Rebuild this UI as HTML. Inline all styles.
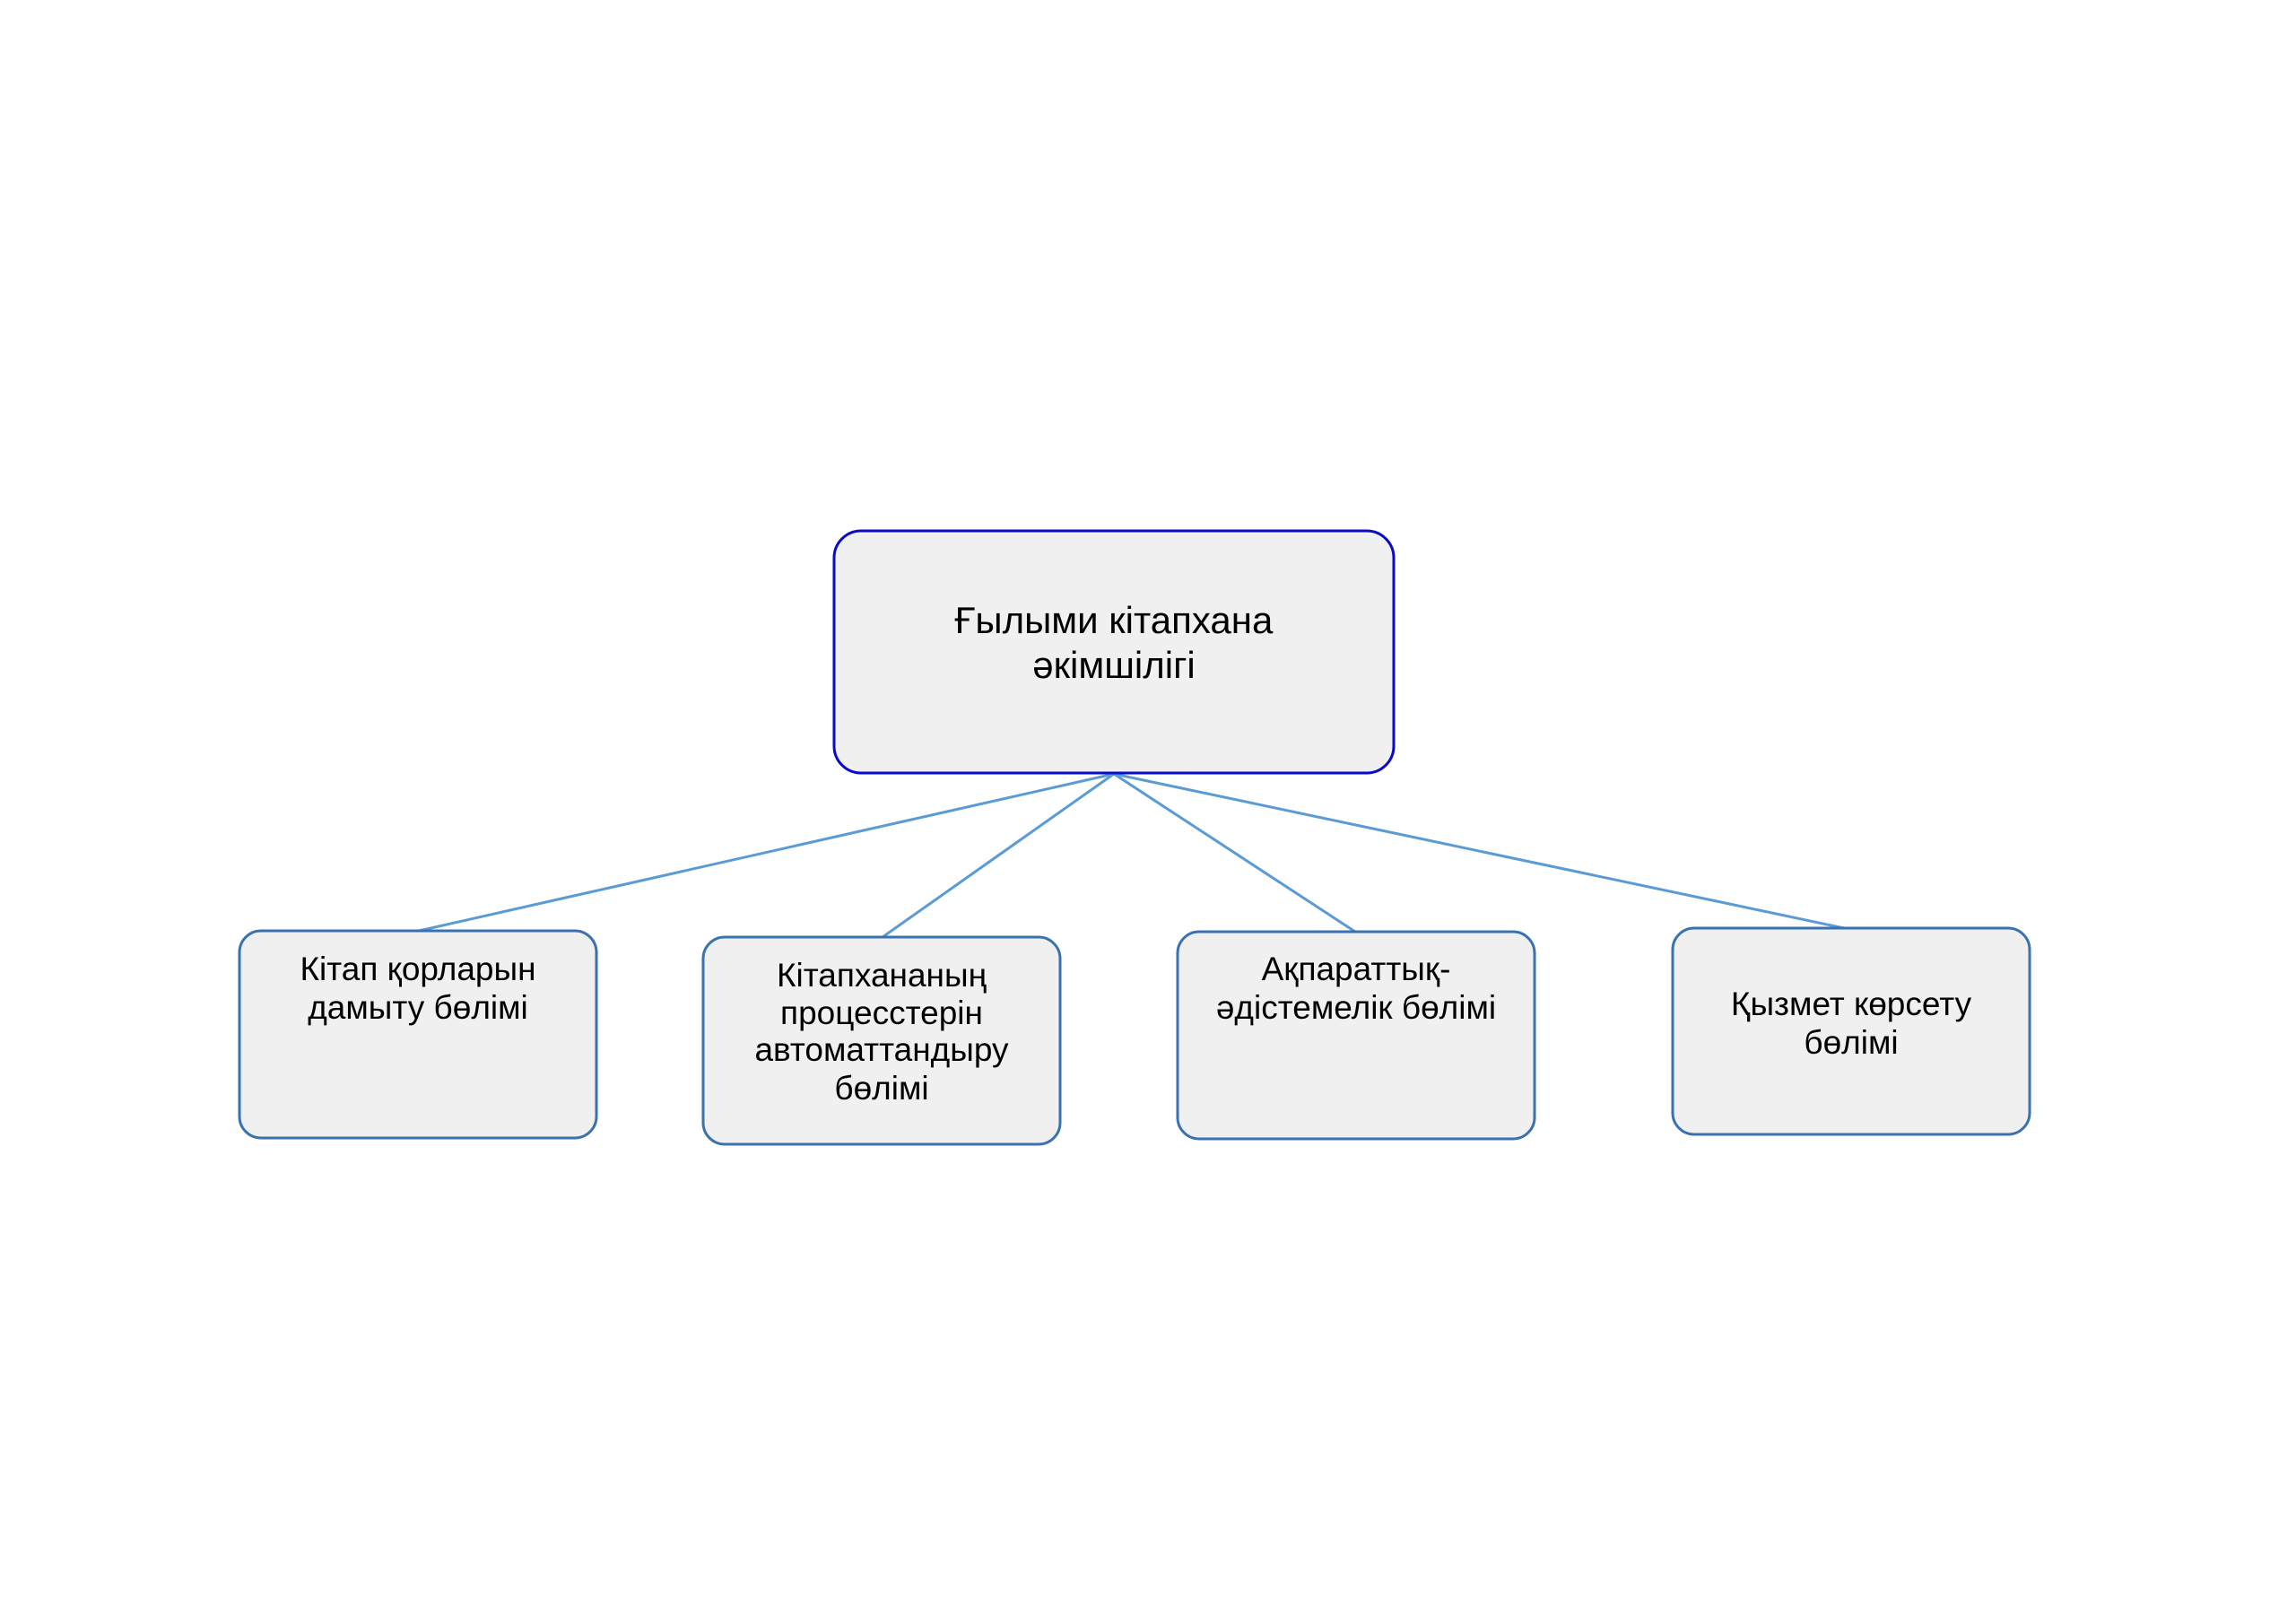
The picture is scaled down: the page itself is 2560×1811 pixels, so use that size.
<!DOCTYPE html>
<html><head><meta charset="utf-8"><style>
html,body{margin:0;padding:0;background:#fff}
svg{display:block}
text{font-family:"Liberation Sans",Arial,sans-serif;fill:#000;text-anchor:middle}
</style></head><body>
<svg width="2560" height="1811" viewBox="0 0 2560 1811" xmlns="http://www.w3.org/2000/svg">
<g transform="translate(-3,-1)">
<g stroke="#5b9bd5" stroke-width="3" fill="none">
<line x1="1245" y1="864" x2="470" y2="1039"/>
<line x1="1245" y1="864" x2="987" y2="1046"/>
<line x1="1245" y1="864" x2="1514" y2="1040"/>
<line x1="1245" y1="864" x2="2059" y2="1036"/>
</g>
<rect x="933" y="593" width="624" height="270" rx="30" fill="#f0f0f0" stroke="#0a0acc" stroke-width="3"/>
<g fill="#f0f0f0" stroke="#3a72b0" stroke-width="3">
<rect x="270" y="1039" width="398" height="231" rx="24"/>
<rect x="787" y="1046" width="398" height="231" rx="24"/>
<rect x="1316" y="1040" width="398" height="231" rx="24"/>
<rect x="1868" y="1036" width="398" height="230" rx="24"/>
</g>
<g font-size="42">
<text x="1245" y="707">Ғылыми кітапхана</text>
<text x="1245" y="757">әкімшілігі</text>
</g>
<g font-size="37">
<text x="469" y="1094">Кітап қорларын</text>
<text x="469" y="1137">дамыту бөлімі</text>
<text x="986" y="1101">Кітапхананың</text>
<text x="986" y="1143">процесстерін</text>
<text x="986" y="1184">автоматтандыру</text>
<text x="986" y="1227">бөлімі</text>
<text x="1515" y="1094">Ақпараттық-</text>
<text x="1515" y="1137">әдістемелік бөлімі</text>
<text x="2067" y="1133">Қызмет көрсету</text>
<text x="2067" y="1176">бөлімі</text>
</g>
</g>
</svg>
</body></html>
